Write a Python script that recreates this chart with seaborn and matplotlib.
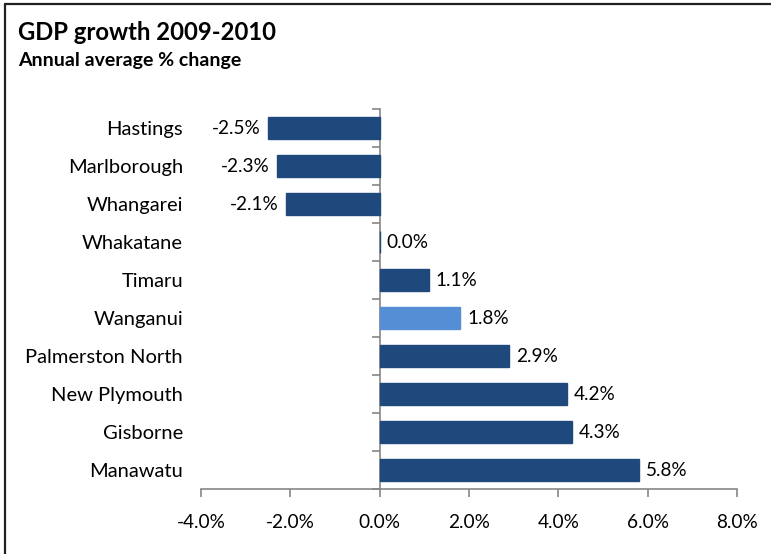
import matplotlib
matplotlib.use("Agg")
import matplotlib.pyplot as plt
import matplotlib.lines as mlines
import seaborn as sns
import pandas as pd
from matplotlib.ticker import FuncFormatter

# Regional GDP growth, annual average % change 2009-2010
regions = ["Hastings", "Marlborough", "Whangarei", "Whakatane", "Timaru",
           "Wanganui", "Palmerston North", "New Plymouth", "Gisborne", "Manawatu"]
growth = [-2.5, -2.3, -2.1, 0.0, 1.1, 1.8, 2.9, 4.2, 4.3, 5.8]
highlight = "Wanganui"
x_ticks = [-4, -2, 0, 2, 4, 6, 8]

DARK = "#1F497D"
LIGHT = "#558ED5"
AXIS_GREY = "#868686"

sns.set_theme(style="white")
plt.rcParams["font.family"] = ["Lato", "DejaVu Sans"]

df = pd.DataFrame({"region": regions, "growth": growth})
palette = {r: (LIGHT if r == highlight else DARK) for r in regions}

fig = plt.figure(figsize=(7.71, 5.54), dpi=100)
ax = fig.add_axes([201 / 771, 1 - 489 / 554, 536 / 771, 380 / 554])

sns.barplot(data=df, x="growth", y="region", hue="region", order=regions,
            palette=palette, legend=False, width=0.58, orient="h",
            saturation=1, ax=ax)

# Outline each bar in its own colour so a zero-length bar still shows as a line
for patch in ax.patches:
    patch.set_edgecolor(patch.get_facecolor())
    patch.set_linewidth(1.0)

for cont in ax.containers:
    ax.bar_label(cont, labels=[f"{v:.1f}%" for v in cont.datavalues],
                 padding=5, fontsize=13.7, color="black")

ax.set_xlim(-4, 8)
ax.set_ylim(len(regions) - 0.5, -0.5)
ax.set_xticks(x_ticks)
ax.xaxis.set_major_formatter(FuncFormatter(lambda v, p: f"{v:.1f}%"))
ax.set_xlabel("")
ax.set_ylabel("")

for s in ["top", "right", "left"]:
    ax.spines[s].set_visible(False)
ax.spines["bottom"].set_color(AXIS_GREY)
ax.spines["bottom"].set_linewidth(1.2)

ax.tick_params(axis="x", direction="out", length=6, width=1.2, color=AXIS_GREY,
               pad=12, labelsize=13.7, labelcolor="black", bottom=True)
ax.tick_params(axis="y", length=0, pad=13, labelsize=14.5, labelcolor="black")

# Category axis drawn at zero, with ticks between bars
x0 = (0 - x_ticks[0]) / (x_ticks[-1] - x_ticks[0])
sec = ax.secondary_yaxis(x0)
sec.set_yticks([i - 0.5 for i in range(len(regions) + 1)])
sec.set_yticklabels([])
sec.spines["left"].set_color(AXIS_GREY)
sec.spines["left"].set_linewidth(1.2)
sec.tick_params(axis="y", direction="out", length=6, width=1.2, color=AXIS_GREY)

fig.text(18 / 771, 1 - 40 / 554, "GDP growth 2009-2010", fontsize=17.2,
         fontweight="bold", color="black", ha="left", va="baseline")
fig.text(18 / 771, 1 - 66 / 554, "Annual average % change", fontsize=14,
         fontweight="bold", color="black", ha="left", va="baseline")

# Frame edges along the top and left of the figure
fig.add_artist(mlines.Line2D([5 / 771, 1], [1 - 4 / 554, 1 - 4 / 554],
                             transform=fig.transFigure, color="#222222", lw=1.6))
fig.add_artist(mlines.Line2D([5 / 771, 5 / 771], [0, 1 - 4 / 554],
                             transform=fig.transFigure, color="#222222", lw=1.6))

fig.savefig("out.png", dpi=100)
